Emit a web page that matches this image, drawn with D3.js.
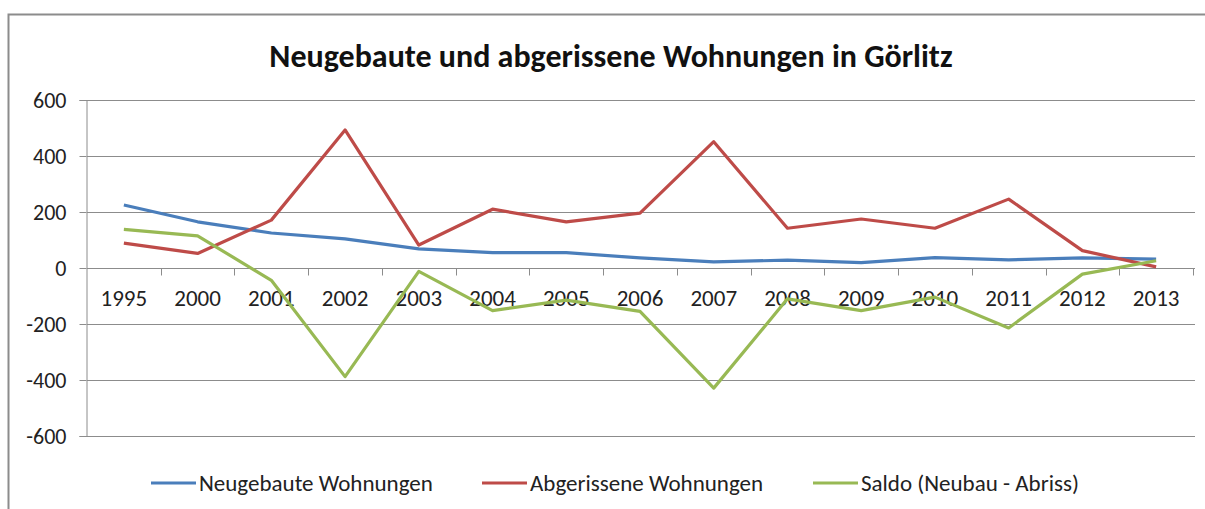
<!DOCTYPE html>
<html>
<head>
<meta charset="utf-8">
<script src="https://cdn.jsdelivr.net/npm/d3@7"></script>
<style>
  body { margin: 0; background: #fff; }
  text { font-family: Carlito, Calibri, Lato, sans-serif; fill: #222; }
</style>
</head>
<body>
<div class="canva"></div>
<script>
// chart data
years = ["1995","2000","2001","2002","2003","2004","2005","2006","2007","2008","2009","2010","2011","2012","2013"]
neubau  = [225, 165, 125, 104, 68, 55, 55, 36, 22, 28, 19, 37, 29, 36, 32]
abriss  = [89, 52, 171, 493, 82, 210, 165, 196, 451, 142, 175, 142, 246, 62, 4]
saldo   = [138, 115, -44, -388, -12, -152, -115, -155, -429, -110, -152, -104, -214, -22, 26]
y_ticks = [600, 400, 200, 0, -200, -400, -600]
series_names = ["Neugebaute Wohnungen", "Abgerissene Wohnungen", "Saldo (Neubau - Abriss)"]

W = 1205
H = 509
plot_l = 87
plot_r = 1193
plot_t = 100
plot_b = 436

colors = ["#4a7ebb", "#be4b48", "#98b954"]

function render() {
    const svg = d3.select('.canva').append('svg')
        .attr('width', W)
        .attr('height', H)

    // outer frame (top + left edges visible)
    svg.append('path')
        .attr('d', `M8.5,${H} L8.5,14.5 L${W},14.5`)
        .attr('fill', 'none')
        .attr('stroke', '#8c8c8c')
        .attr('stroke-width', 2)

    svg.append('text')
        .attr('x', 611)
        .attr('y', 67)
        .attr('text-anchor', 'middle')
        .style('font-size', '32px')
        .style('font-weight', 'bold')
        .style('fill', '#111')
        .text("Neugebaute und abgerissene Wohnungen in Görlitz")

    const x = d3.scaleBand().domain(years).range([plot_l, plot_r]).padding(0)
    const y = d3.scaleLinear().domain([-600, 600]).range([plot_b, plot_t])
    const bw = x.bandwidth()

    // horizontal gridlines + y ticks
    const yAxis = d3.axisLeft(y).tickValues(y_ticks).tickSize(7).tickPadding(13)
        .tickFormat(d => String(d))
    const gy = svg.append('g').attr('transform', `translate(${plot_l - 0.5},0)`).call(yAxis)
    gy.select('.domain').attr('stroke', '#8c8c8c')
    gy.selectAll('.tick line').attr('stroke', '#8c8c8c')
    gy.selectAll('.tick text').style('font-size', '22px').style('fill', '#222')
        .attr('font-family', null)

    svg.append('g').selectAll('line')
        .data(y_ticks)
        .enter().append('line')
        .attr('x1', plot_l)
        .attr('x2', plot_r + 2)
        .attr('y1', d => Math.round(y(d)) + 0.5)
        .attr('y2', d => Math.round(y(d)) + 0.5)
        .attr('stroke', '#8c8c8c')
        .attr('stroke-width', 1)

    // category axis at zero
    const y0 = Math.round(y(0)) + 0.5
    const xAxis = d3.axisBottom(x).tickSize(0).tickPadding(21)
    const gx = svg.append('g').attr('transform', `translate(0,${y0})`).call(xAxis)
    gx.select('.domain').remove()
    gx.selectAll('.tick text').style('font-size', '23px').style('fill', '#222')
        .attr('font-family', null)

    const bounds = years.map(d => x(d)).concat([plot_r])
    svg.append('g').selectAll('line')
        .data(bounds.slice(1))
        .enter().append('line')
        .attr('x1', d => Math.round(d) + 0.5)
        .attr('x2', d => Math.round(d) + 0.5)
        .attr('y1', y0)
        .attr('y2', y0 + 7)
        .attr('stroke', '#8c8c8c')

    // series lines
    const all = [neubau, abriss, saldo]
    const line = d3.line()
        .x((d, i) => x(years[i]) + bw / 2)
        .y(d => y(d))

    all.forEach((s, k) => {
        svg.append('path')
            .datum(s)
            .attr('d', line)
            .attr('fill', 'none')
            .attr('stroke', colors[k])
            .attr('stroke-width', 3.2)
            .attr('stroke-linejoin', 'round')
    })

    // legend
    const leg_x = [151, 482, 813]
    const legY = 483
    series_names.forEach((n, k) => {
        svg.append('line')
            .attr('x1', leg_x[k]).attr('x2', leg_x[k] + 45)
            .attr('y1', legY).attr('y2', legY)
            .attr('stroke', colors[k])
            .attr('stroke-width', 3.2)
        svg.append('text')
            .attr('x', leg_x[k] + 48)
            .attr('y', legY + 8)
            .style('font-size', '23px')
            .text(n)
    })
}

render()
</script>
</body>
</html>
